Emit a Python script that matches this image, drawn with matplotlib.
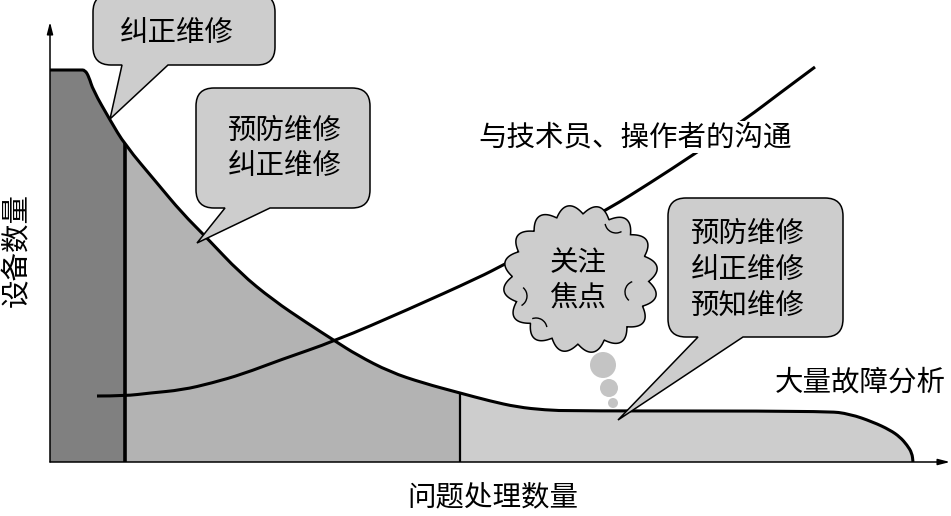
import numpy as np
import matplotlib.pyplot as plt
from matplotlib.path import Path
from matplotlib.patches import PathPatch, Circle, Arc, Rectangle

plt.rcParams['font.family'] = ['Noto Sans CJK SC', 'DejaVu Sans']

# 设备数量 (y) against 问题处理数量 (x)
decay_x = np.array([0, 3.0, 3.5, 3.9, 4.3, 6.0, 7.5, 10.7, 13.2, 15.7, 19.0, 22.3, 25.7, 28.5,
                    30.7, 34.0, 37.3, 41.0, 44.0, 46.7, 49.5, 52.3, 77.7, 80.0, 82.3, 84.0,
                    85.0, 85.7, 86.2, 86.3])
decay_y = np.array([39.2, 39.2, 39.2, 38.5, 37.2, 34.2, 31.7, 27.9, 24.9, 22.4, 18.9, 16.2, 13.9, 12.1,
                    10.7, 9.0, 7.9, 6.9, 6.1, 5.5, 5.2, 5.1, 5.1, 4.8, 4.0, 3.2,
                    2.5, 1.7, 0.9, 0.0])

# 与技术员、操作者的沟通
comm_x = np.array([4.7, 7.5, 10.0, 13.2, 16.2, 19.3, 23.0, 28.5, 35.7, 43.0, 45.3,
                   50.7, 56.0, 60.0, 64.3, 69.7, 73.0, 76.5])
comm_y = np.array([6.6, 6.6, 6.9, 7.2, 7.9, 8.8, 10.2, 12.1, 15.2, 18.5, 19.7,
                   22.5, 25.4, 27.9, 30.7, 34.4, 36.9, 39.5])

stage_edges = [0, 7.5, 41.0, 86.3]
stage_colors = ['#808080', '#b3b3b3', '#cdcdcd']

callout_texts = ['纠正维修', '预防维修\n纠正维修', '预防维修\n纠正维修\n预知维修']
cloud_text = '关注\n焦点'
comm_label = '与技术员、操作者的沟通'
tail_label = '大量故障分析'
x_label = '问题处理数量'
y_label = '设备数量'

FS = 20.5
BOX_GRAY = '#cdcdcd'


def smooth_path(x, y, floor=False):
    """ Quadratic B-spline through the read points (points used as control points) """
    pts = list(zip(x, y))
    verts, codes = [pts[0]], [Path.MOVETO]
    for i in range(1, len(pts) - 1):
        mid = ((pts[i][0] + pts[i + 1][0]) / 2, (pts[i][1] + pts[i + 1][1]) / 2)
        verts += [pts[i], mid]
        codes += [Path.CURVE3, Path.CURVE3]
    verts.append(pts[-1])
    codes.append(Path.LINETO)
    if floor:
        verts += [(pts[-1][0], 0), (pts[0][0], 0), pts[0]]
        codes += [Path.LINETO, Path.LINETO, Path.CLOSEPOLY]
    return Path(verts, codes)


def callout_path(x0, y0, x1, y1, b1, b2, tip, r=1.8):
    verts = [(x0 + r, y0), (b1, y0), tip, (b2, y0), (x1 - r, y0),
             (x1, y0), (x1, y0 + r), (x1, y1 - r),
             (x1, y1), (x1 - r, y1), (x0 + r, y1),
             (x0, y1), (x0, y1 - r), (x0, y0 + r),
             (x0, y0), (x0 + r, y0), (x0 + r, y0)]
    codes = [Path.MOVETO, Path.LINETO, Path.LINETO, Path.LINETO, Path.LINETO,
             Path.CURVE3, Path.CURVE3, Path.LINETO,
             Path.CURVE3, Path.CURVE3, Path.LINETO,
             Path.CURVE3, Path.CURVE3, Path.LINETO,
             Path.CURVE3, Path.CURVE3, Path.CLOSEPOLY]
    return Path(verts, codes)


fig = plt.figure(figsize=(9.51, 5.16), dpi=100)
ax = fig.add_axes([50 / 951, 54 / 516, 900 / 951, 440 / 516])
ax.set_xlim(0, 90)
ax.set_ylim(0, 44)
ax.axis('off')

# shaded stages under the curve
area = smooth_path(decay_x, decay_y, floor=True)
for lo, hi, col in zip(stage_edges[:-1], stage_edges[1:], stage_colors):
    patch = PathPatch(area, facecolor=col, edgecolor='none', zorder=1)
    ax.add_patch(patch)
    patch.set_clip_path(Rectangle((lo, 0), hi - lo, 44, transform=ax.transData))

for edge, lw in zip(stage_edges[1:-1], [2.6, 1.6]):
    line, = ax.plot([edge, edge], [0, 44], color='black', lw=lw, zorder=2)
    line.set_clip_path(area, ax.transData)

ax.add_patch(PathPatch(smooth_path(decay_x, decay_y), facecolor='none', edgecolor='black',
                       lw=2.2, zorder=3))
ax.add_patch(PathPatch(smooth_path(comm_x, comm_y), facecolor='none', edgecolor='black',
                       lw=2.2, zorder=3))

# axes with arrows
arrow = dict(arrowstyle='-|>,head_length=0.7,head_width=0.18', lw=1.1, color='black',
             shrinkA=0, shrinkB=0)
ax.annotate('', xy=(0, 44), xytext=(0, 0), arrowprops=arrow, annotation_clip=False, zorder=4)
ax.annotate('', xy=(90, 0), xytext=(0, 0), arrowprops=arrow, annotation_clip=False, zorder=4)

# thought cloud
cx, cy, a, b = 53.05, 18.3, 7.75, 7.4
theta = np.linspace(0, 2 * np.pi, 1000)
rr = 0.88 + 0.12 * np.abs(np.sin(8 * theta + 0.3))
ax.fill(cx + a * rr * np.cos(theta), cy + b * rr * np.sin(theta),
        facecolor=BOX_GRAY, edgecolor='black', lw=1.1, zorder=5, clip_on=False)
for (ux, uy), t1, t2 in [((56.6, 24.0), 190, 300), ((58.6, 17.0), 110, 230),
                         ((46.6, 16.6), 300, 50), ((48.6, 13.3), 10, 110)]:
    ax.add_patch(Arc((ux, uy), 2.2, 2.2, theta1=t1, theta2=t2, color='black', lw=1.0, zorder=6))
ax.text(52.8, 18.2, cloud_text, fontsize=FS, ha='center', va='center',
        linespacing=1.2, zorder=7)
for (bx, by), r in [((55.3, 9.7), 1.3), ((55.9, 7.4), 0.9), ((56.3, 5.9), 0.5)]:
    ax.add_patch(Circle((bx, by), r, facecolor='#c4c4c4', edgecolor='none', zorder=5))

# callouts
boxes = [(4.3, 39.7, 22.5, 46.8, 7.2, 11.8, (6.0, 34.3)),
         (14.6, 25.4, 32.0, 37.4, 17.5, 22.0, (14.7, 21.9)),
         (61.8, 12.5, 79.3, 26.4, 64.8, 69.3, (56.8, 4.2))]
text_pos = [(12.7, 42.9), (23.5, 31.35), (69.8, 19.2)]
for (x0, y0, x1, y1, b1, b2, tip), txt, (tx, ty) in zip(boxes, callout_texts, text_pos):
    patch = PathPatch(callout_path(x0, y0, x1, y1, b1, b2, tip), facecolor=BOX_GRAY,
                      edgecolor='black', lw=1.1, zorder=8, clip_on=False)
    ax.add_patch(patch)
    ax.text(tx, ty, txt, fontsize=FS, ha='center', va='center', linespacing=1.25, zorder=9)

ax.text(58.5, 32.5, comm_label, fontsize=FS, ha='center', va='center', zorder=9,
        bbox=dict(facecolor='white', edgecolor='none', pad=1))
ax.text(81.0, 7.9, tail_label, fontsize=FS, ha='center', va='center', zorder=9)
ax.text(44.3, -3.5, x_label, fontsize=FS, ha='center', va='center', clip_on=False)
ax.text(-3.3, 21.2, y_label, fontsize=FS, ha='center', va='center', rotation=90, clip_on=False)

fig.savefig('out.png', dpi=100)
